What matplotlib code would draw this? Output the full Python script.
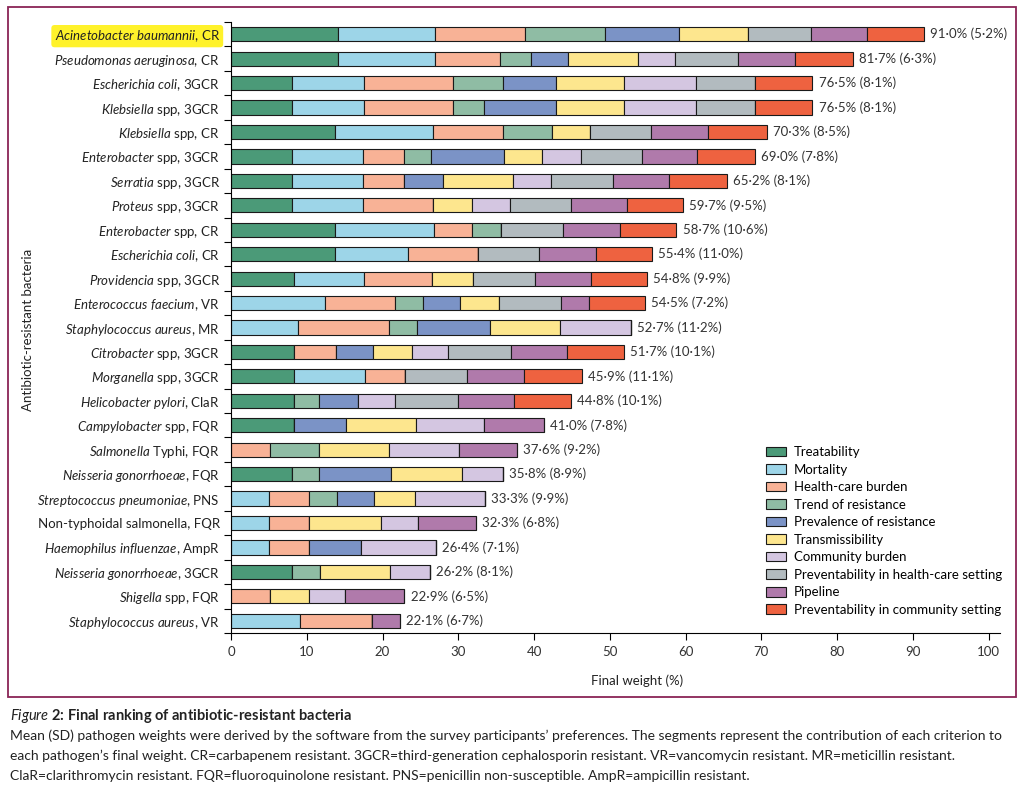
import matplotlib
matplotlib.use('Agg')
import matplotlib.pyplot as plt
import matplotlib.patches as mpatches
import numpy as np

# ----------------------------------------------------------------------------------------------------------------------
# Datos: peso de cada criterio por patógeno, media y SD final.
# ----------------------------------------------------------------------------------------------------------------------

pathogens = [
    ('Acinetobacter baumannii', ', CR'),
    ('Pseudomonas aeruginosa', ', CR'),
    ('Escherichia coli', ', 3GCR'),
    ('Klebsiella', ' spp, 3GCR'),
    ('Klebsiella', ' spp, CR'),
    ('Enterobacter', ' spp, 3GCR'),
    ('Serratia', ' spp, 3GCR'),
    ('Proteus', ' spp, 3GCR'),
    ('Enterobacter', ' spp, CR'),
    ('Escherichia coli', ', CR'),
    ('Providencia', ' spp, 3GCR'),
    ('Enterococcus faecium', ', VR'),
    ('Staphylococcus aureus', ', MR'),
    ('Citrobacter', ' spp, 3GCR'),
    ('Morganella', ' spp, 3GCR'),
    ('Helicobacter pylori', ', ClaR'),
    ('Campylobacter', ' spp, FQR'),
    ('Salmonella', ' Typhi, FQR'),
    ('Neisseria gonorrhoeae', ', FQR'),
    ('Streptococcus pneumoniae', ', PNS'),
    ('', 'Non-typhoidal salmonella, FQR'),
    ('Haemophilus influenzae', ', AmpR'),
    ('Neisseria gonorrhoeae', ', 3GCR'),
    ('Shigella', ' spp, FQR'),
    ('Staphylococcus aureus', ', VR'),
]

means = [91.0, 81.7, 76.5, 76.5, 70.3, 69.0, 65.2, 59.7, 58.7, 55.4, 54.8, 54.5, 52.7, 51.7, 45.9, 44.8, 41.0,
         37.6, 35.8, 33.3, 32.3, 26.4, 26.2, 22.9, 22.1]
sds = [5.2, 6.3, 8.1, 8.1, 8.5, 7.8, 8.1, 9.5, 10.6, 11.0, 9.9, 7.2, 11.2, 10.1, 11.1, 10.1, 7.8,
       9.2, 8.9, 9.9, 6.8, 7.1, 8.1, 6.5, 6.7]

criteria = ['Treatability', 'Mortality', 'Health-care burden', 'Trend of resistance', 'Prevalence of resistance',
            'Transmissibility', 'Community burden', 'Preventability in health-care setting', 'Pipeline',
            'Preventability in community setting']

treatability = [14.1, 14.1, 8.1, 8.1, 13.7, 8.1, 8.1, 8.1, 13.7, 13.7, 8.3, 0, 0, 8.3, 8.3, 8.3, 8.3, 0, 8.1, 0,
                0, 0, 8.1, 0, 0]
mortality = [12.8, 12.8, 9.5, 9.5, 12.9, 9.3, 9.3, 9.3, 13.1, 9.6, 9.2, 12.4, 8.9, 0, 9.4, 0, 0, 0, 0, 5.0,
             5.0, 5.0, 0, 0, 9.05]
hc_burden = [11.9, 8.6, 11.75, 11.75, 9.3, 5.4, 5.4, 9.2, 5.0, 9.3, 9.0, 9.3, 12.0, 5.5, 5.25, 0, 0, 5.2, 0, 5.3,
             5.3, 5.3, 0, 5.2, 9.5]
trend = [10.5, 4.1, 6.5, 4.0, 6.5, 3.6, 0, 0, 3.9, 0, 0, 3.7, 3.7, 0, 0, 3.3, 0, 6.4, 3.45, 3.7,
         0, 0, 3.6, 0, 0]
prevalence = [9.8, 4.9, 7.0, 9.5, 0, 9.6, 5.15, 0, 0, 0, 0, 4.8, 9.55, 5.0, 0, 5.1, 6.85, 0, 9.6, 4.85,
              0, 6.9, 0, 0, 0]
transmissibility = [9.2, 9.2, 9.0, 9.0, 5.0, 5.0, 9.25, 5.2, 0, 0, 5.4, 5.15, 9.3, 5.1, 0, 0, 9.3, 9.2, 9.4, 5.45,
                    9.5, 0, 9.35, 5.05, 0]
community = [0, 4.9, 9.5, 9.5, 0, 5.2, 5.0, 5.0, 0, 0, 0, 0, 9.3, 4.8, 0, 5.0, 9.0, 9.3, 5.3, 9.25,
             4.85, 9.8, 5.15, 4.85, 0]
prev_hc = [8.2, 8.3, 7.8, 7.8, 8.0, 8.0, 8.2, 8.1, 8.1, 8.0, 8.2, 8.15, 0, 8.3, 8.2, 8.2, 0, 0, 0, 0,
           0, 0, 0, 0, 0]
pipeline = [7.5, 7.6, 0, 0, 7.6, 7.3, 7.4, 7.4, 7.5, 7.6, 7.4, 3.7, 0, 7.4, 7.55, 7.4, 7.8, 7.6, 0, 0,
            7.65, 0, 0, 7.8, 3.8]
prev_comm = [7.5, 7.6, 7.6, 7.6, 7.7, 7.7, 7.7, 7.4, 7.5, 7.4, 7.45, 7.5, 0, 7.5, 7.65, 7.6, 0, 0, 0, 0,
             0, 0, 0, 0, 0]

series = [treatability, mortality, hc_burden, trend, prevalence, transmissibility, community, prev_hc, pipeline,
          prev_comm]
colores = ['#4b9a78', '#9dd5e8', '#f8b296', '#8fbca4', '#7b93c6', '#fde68e', '#d4c6e1', '#b2bbbf', '#b07aab',
           '#ee6240']

# ----------------------------------------------------------------------------------------------------------------------
# Fuentes
# ----------------------------------------------------------------------------------------------------------------------
plt.rcParams['font.family'] = ['Lato', 'DejaVu Sans']
plt.rcParams['mathtext.fontset'] = 'custom'
plt.rcParams['mathtext.rm'] = 'Lato'
plt.rcParams['mathtext.it'] = 'Lato:italic'
plt.rcParams['mathtext.bf'] = 'Lato:bold'


def etiqueta(it, rm):
    if not it:
        return rm
    return r'$\mathit{' + it.replace(' ', r'\ ') + '}$' + rm


fig = plt.figure(figsize=(10.24, 7.93), dpi=100)
ax = fig.add_axes([231 / 1024, 1 - 633 / 793, 769 / 1024, 611 / 793])

y = np.arange(len(pathogens))
left = np.zeros(len(pathogens))
handles = []
for vals, col, lab in zip(series, colores, criteria):
    vals = np.array(vals)
    h = ax.barh(y, vals, left=left, height=0.58, color=col, edgecolor='#1a1a1a', linewidth=0.8, label=lab)
    handles.append(h)
    left += vals

for i in range(len(pathogens)):
    txt = f'{means[i]:.1f}% ({sds[i]:.1f}%)'.replace('.', '·')
    ax.text(left[i] + 0.8, y[i], txt, va='center', ha='left', fontsize=9.5, color='#333333')

ax.set_xlim(0, 101.5)
ax.set_ylim(len(pathogens) - 0.5, -0.5)
ax.set_xticks(np.arange(0, 101, 10))
ax.tick_params(axis='x', length=5, width=0.8, labelsize=9.5, labelcolor='#333333', pad=4)

ax.set_yticks(y)
ax.set_yticklabels([etiqueta(a, b) for a, b in pathogens], fontsize=9.5, color='#222222')
ax.tick_params(axis='y', which='major', length=0, pad=8)
ax.set_yticks(np.arange(-0.5, len(pathogens), 1), minor=True)
ax.tick_params(axis='y', which='minor', length=5, width=0.8)

for s in ['top', 'right']:
    ax.spines[s].set_visible(False)
ax.spines['left'].set_linewidth(0.8)
ax.spines['bottom'].set_linewidth(0.8)

ax.get_yticklabels()[0].set_bbox(dict(facecolor='#fff22b', edgecolor='none', boxstyle='round,pad=0.25'))

fig.text(28 / 1024, 1 - 330 / 793, 'Antibiotic-resistant bacteria', rotation=90, ha='center', va='center',
         fontsize=9.5, color='#222222')
fig.text(637 / 1024, 1 - 681 / 793, 'Final weight (%)', ha='center', va='center', fontsize=9.5, color='#222222')

fig.legend(handles=handles, loc='upper left', bbox_to_anchor=(766 / 1024, 1 - 446 / 793), frameon=False,
           fontsize=9.5, handlelength=1.5, handleheight=0.75, labelspacing=0.42, handletextpad=0.6,
           borderaxespad=0, borderpad=0)

# Marco
fig.patches.append(mpatches.Rectangle((8 / 1024, 1 - 697 / 793), 1008 / 1024, 690 / 793,
                                      transform=fig.transFigure, fill=False, edgecolor='#8a2456', linewidth=1.3))

# Pie de figura
fig.text(10 / 1024, 1 - 716 / 793, r'$\mathit{Figure}$ 2: Final ranking of antibiotic-resistant bacteria',
         ha='left', va='center', fontsize=10.5, fontweight='bold', color='#222222')
caption = [
    'Mean (SD) pathogen weights were derived by the software from the survey participants\u2019 preferences. '
    'The segments represent the contribution of each criterion to',
    'each pathogen\u2019s final weight. CR=carbapenem resistant. 3GCR=third-generation cephalosporin resistant. '
    'VR=vancomycin resistant. MR=meticillin resistant.',
    'ClaR=clarithromycin resistant. FQR=fluoroquinolone resistant. PNS=penicillin non-susceptible. '
    'AmpR=ampicillin resistant.',
]
for k, linea in enumerate(caption):
    fig.text(10 / 1024, 1 - (736 + 20 * k) / 793, linea, ha='left', va='center', fontsize=10, color='#222222')

fig.savefig('out.png', dpi=100)
